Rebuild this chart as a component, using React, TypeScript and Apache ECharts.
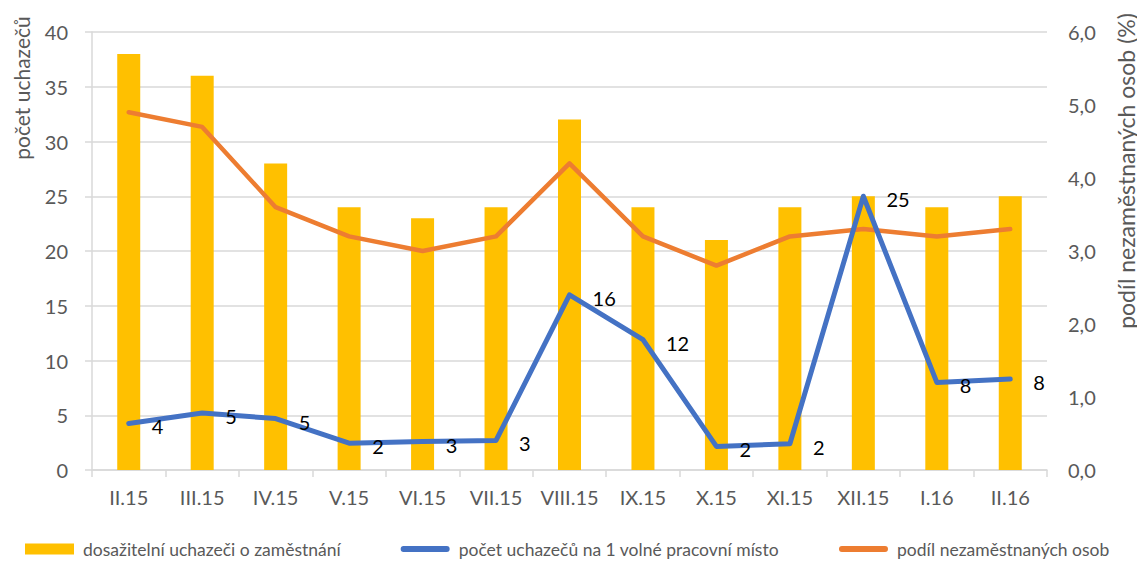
import React, { useEffect, useRef } from "react";
import * as echarts from "echarts";

const categories = ["II.15", "III.15", "IV.15", "V.15", "VI.15", "VII.15", "VIII.15", "IX.15", "X.15", "XI.15", "XII.15", "I.16", "II.16"];
const barValues = [38, 36, 28, 24, 23, 24, 32, 24, 21, 24, 25, 24, 25];
const perPlaceValues = [4.25, 5.2, 4.7, 2.45, 2.6, 2.7, 16, 11.9, 2.15, 2.4, 25, 8.0, 8.3];
const shareValues = [4.9, 4.7, 3.6, 3.2, 3.0, 3.2, 4.2, 3.2, 2.8, 3.2, 3.3, 3.2, 3.3];
const leftTicks = { min: 0, max: 40, interval: 5 };
const rightTicks = { min: 0, max: 6, interval: 1 };

const seriesNames = [
  "dosažitelní uchazeči o zaměstnání",
  "počet uchazečů na 1 volné pracovní místo",
  "podíl nezaměstnaných osob",
];

const FONT = "Lato, 'Open Sans', sans-serif";
const GRAY = "#595959";
const GRID = "#D9D9D9";
const LINE_ICON = "path://M3,0 L47,0 A3,3 0 0 1 47,6 L3,6 A3,3 0 0 1 3,0 Z";

export default function App() {
  const ref = useRef<HTMLDivElement>(null);
  useEffect(() => {
    if (!ref.current) return;
    const chart = echarts.init(ref.current, undefined, { renderer: "svg" });
    chart.setOption({
      animation: false,
      textStyle: { fontFamily: FONT },
      grid: { left: 92, right: 98, top: 32, bottom: 96 },
      legend: {
        left: 20,
        bottom: 3,
        itemWidth: 49,
        itemHeight: 11,
        itemGap: 60,
        textStyle: { fontFamily: FONT, fontSize: 17.5, color: GRAY, padding: [0, 0, 0, 4] },
        data: [
          { name: seriesNames[0], icon: "rect" },
          { name: seriesNames[1], icon: LINE_ICON, itemStyle: { color: "#4472C4" } },
          { name: seriesNames[2], icon: LINE_ICON, itemStyle: { color: "#ED7D31" } },
        ],
      },
      graphic: [
        {
          type: "text",
          x: 21,
          y: 88,
          rotation: Math.PI / 2,
          style: { text: "počet uchazečů", fontFamily: FONT, fontSize: 21, fill: GRAY, align: "center", verticalAlign: "middle" },
        },
        {
          type: "text",
          x: 1126,
          y: 171,
          rotation: Math.PI / 2,
          style: { text: "podíl nezaměstnaných osob (%)", fontFamily: FONT, fontSize: 23, fill: GRAY, align: "center", verticalAlign: "middle" },
        },
      ],
      xAxis: {
        type: "category",
        data: categories,
        boundaryGap: true,
        axisLine: { lineStyle: { color: GRID, width: 1.5 } },
        axisTick: { show: true, length: 7, lineStyle: { color: GRID, width: 1.5 } },
        axisLabel: { color: GRAY, fontSize: 20, margin: 17, fontFamily: FONT, interval: 0 },
      },
      yAxis: [
        {
          type: "value",
          min: leftTicks.min,
          max: leftTicks.max,
          interval: leftTicks.interval,
          axisLine: { show: true, lineStyle: { color: GRID, width: 1.5 } },
          axisTick: { show: true, length: 7, lineStyle: { color: GRID, width: 1.5 } },
          axisLabel: { color: GRAY, fontSize: 20, margin: 24, fontFamily: FONT },
          splitLine: { show: true, lineStyle: { color: GRID, width: 1.5 } },
        },
        {
          type: "value",
          min: rightTicks.min,
          max: rightTicks.max,
          interval: rightTicks.interval,
          axisLine: { show: false },
          axisTick: { show: false },
          axisLabel: {
            color: GRAY,
            fontSize: 20,
            margin: 21,
            fontFamily: FONT,
            formatter: (v: number) => v.toFixed(1).replace(".", ","),
          },
          splitLine: { show: false },
        },
      ],
      series: [
        {
          name: seriesNames[0],
          type: "bar",
          data: barValues,
          barWidth: 23,
          itemStyle: { color: "#FFC000" },
          yAxisIndex: 0,
        },
        {
          name: seriesNames[1],
          type: "line",
          data: perPlaceValues,
          yAxisIndex: 0,
          symbol: "circle",
          symbolSize: 0.1,
          showSymbol: true,
          lineStyle: { color: "#4472C4", width: 5, cap: "round", join: "round" },
          itemStyle: { color: "#4472C4" },
          label: {
            show: true,
            position: "right",
            distance: 23,
            offset: [0, 3],
            color: "#000",
            fontSize: 20,
            fontFamily: FONT,
            formatter: (p: any) => String(Math.round(p.value)),
          },
          z: 3,
        },
        {
          name: seriesNames[2],
          type: "line",
          data: shareValues,
          yAxisIndex: 1,
          symbol: "none",
          lineStyle: { color: "#ED7D31", width: 4.5, cap: "round", join: "round" },
          itemStyle: { color: "#ED7D31" },
          z: 2,
        },
      ],
    });
    return () => chart.dispose();
  }, []);
  return <div ref={ref} style={{ width: 1145, height: 566, marginLeft: -8, marginTop: -8 }} />;
}
